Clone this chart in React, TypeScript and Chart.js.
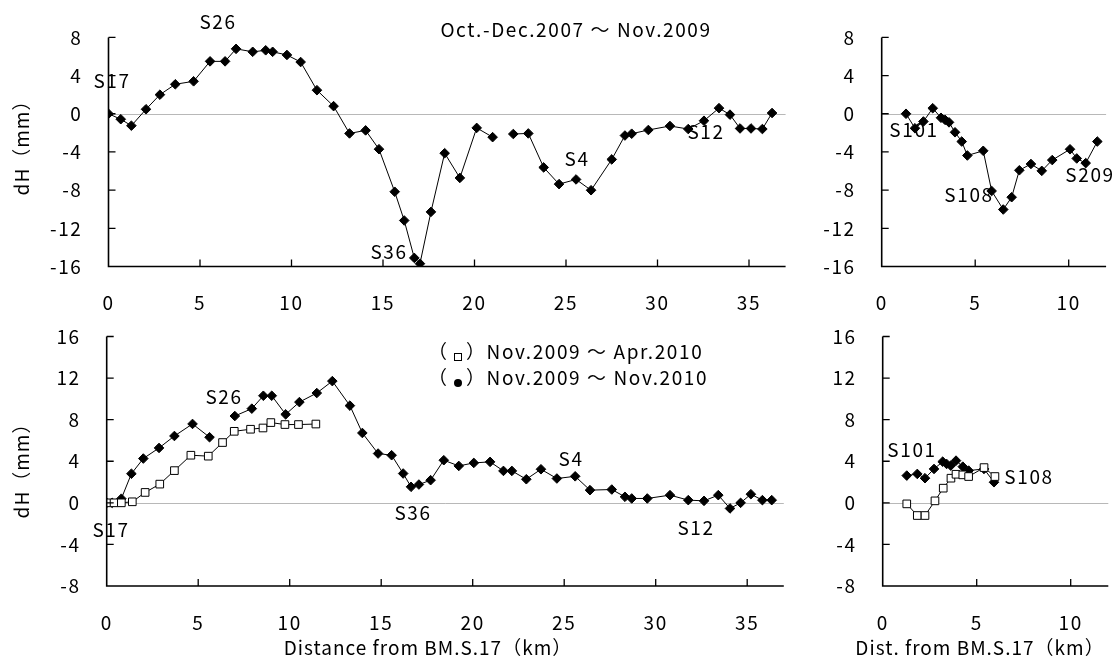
import React, { useEffect, useRef } from 'react';
import { Chart, registerables } from 'chart.js';
Chart.register(...registerables);

const FONT = "'Noto Sans CJK JP', 'Noto Sans', sans-serif";

// ---- Top-left: Oct.-Dec.2007 ~ Nov.2009, main route (two segments, gap near 21-22 km)
const tlDistA = [0, 0.67, 1.25, 2.05, 2.81, 3.65, 4.65, 5.55, 6.37, 6.97, 7.88, 8.59, 8.97, 9.75, 10.5, 11.39, 12.3, 13.17, 14.05, 14.78, 15.64, 16.16, 16.71, 17.02, 17.62, 18.37, 19.2, 20.12, 20.99];
const tlDhA = [0, -0.57, -1.25, 0.47, 2.0, 3.09, 3.4, 5.49, 5.49, 6.8, 6.49, 6.65, 6.49, 6.16, 5.42, 2.47, 0.8, -2.06, -1.74, -3.71, -8.17, -11.18, -15.1, -15.7, -10.28, -4.13, -6.72, -1.48, -2.45];
const tlDistB = [22.12, 22.94, 23.78, 24.62, 25.55, 26.37, 27.5, 28.22, 28.59, 29.5, 30.68, 31.68, 32.54, 33.36, 33.96, 34.51, 35.11, 35.73, 36.26];
const tlDhB = [-2.12, -2.06, -5.62, -7.37, -6.88, -8.01, -4.78, -2.28, -2.09, -1.7, -1.28, -1.6, -0.73, 0.59, -0.09, -1.54, -1.54, -1.6, 0.08];

// ---- Top-right: branch route S101 - S209
const trDist = [1.3, 1.78, 2.23, 2.73, 3.17, 3.39, 3.6, 3.92, 4.28, 4.58, 5.43, 5.88, 6.5, 6.95, 7.36, 7.98, 8.56, 9.12, 10.07, 10.43, 10.91, 11.53];
const trDh = [0, -1.52, -0.81, 0.58, -0.42, -0.64, -0.9, -1.94, -2.91, -4.37, -3.88, -8.09, -10.03, -8.74, -5.92, -5.26, -5.98, -4.85, -3.72, -4.68, -5.17, -2.91];

// ---- Bottom-left: Nov.2009 ~ Nov.2010 (filled, two segments) and Nov.2009 ~ Apr.2010 (open)
const blNovDistA = [0, 0.3, 0.8, 1.35, 2.0, 2.86, 3.7, 4.69, 5.62];
const blNovDhA = [0, 0, 0.4, 2.8, 4.26, 5.28, 6.43, 7.59, 6.31];
const blNovDistB = [7.0, 7.93, 8.56, 9.02, 9.78, 10.53, 11.48, 12.33, 13.29, 13.97, 14.83, 15.57, 16.2, 16.63, 17.06, 17.7, 18.42, 19.24, 20.06, 20.95, 21.68, 22.14, 22.93, 23.73, 24.6, 25.6, 26.41, 27.6, 28.32, 28.69, 29.54, 30.78, 31.78, 32.64, 33.42, 34.06, 34.64, 35.2, 35.83, 36.34];
const blNovDhB = [8.35, 9.06, 10.3, 10.3, 8.51, 9.69, 10.56, 11.71, 9.35, 6.72, 4.74, 4.58, 2.82, 1.54, 1.76, 2.18, 4.1, 3.55, 3.84, 3.94, 3.07, 3.07, 2.27, 3.23, 2.34, 2.55, 1.22, 1.28, 0.58, 0.42, 0.42, 0.74, 0.26, 0.19, 0.74, -0.54, 0, 0.83, 0.26, 0.26];
const blAprDist = [0, 0.4, 0.8, 1.4, 2.1, 2.9, 3.7, 4.6, 5.55, 6.33, 6.97, 7.86, 8.54, 8.97, 9.74, 10.48, 11.43];
const blAprDh = [0, 0, 0, 0.1, 1.0, 1.8, 3.1, 4.58, 4.49, 5.8, 6.88, 7.08, 7.2, 7.72, 7.53, 7.53, 7.58];

// ---- Bottom-right: branch route
const brNovDist = [1.28, 1.84, 2.25, 2.73, 3.19, 3.4, 3.62, 3.9, 4.26, 4.57, 5.39, 5.92];
const brNovDh = [2.62, 2.78, 2.37, 3.26, 3.96, 3.74, 3.58, 4.06, 3.48, 3.1, 3.26, 1.98];
const brAprDist = [1.28, 1.84, 2.25, 2.78, 3.22, 3.63, 3.9, 4.26, 4.57, 5.39, 5.97];
const brAprDh = [-0.1, -1.22, -1.22, 0.19, 1.41, 2.37, 2.75, 2.69, 2.53, 3.39, 2.53];

// ---- Tick labels
const xTicksMain = [0, 5, 10, 15, 20, 25, 30, 35];
const xTicksBranch = [0, 5, 10];
const yTicksTop = [-16, -12, -8, -4, 0, 4, 8];
const yTicksBottom = [-8, -4, 0, 4, 8, 12, 16];

type Series = { x: number[]; y: number[]; style: 'filled' | 'open' };
type Note = { text: string; x: number; y: number; align?: CanvasTextAlign };
type Spec = {
  left: number; right: number; top: number; bottom: number;
  xMax: number; xTicks: number[]; yMin: number; yMax: number; yTicks: number[];
  series: Series[]; notes: Note[];
  yTitle?: { text: string; x: number; y: number };
  xTitle?: { text: string; x: number; y: number };
  legend?: { x: number; y1: number; y2: number };
};

const W = 1120, H = 662, YW = 60, XH = 50;
const FS = 19;
const SPACING = '1.6px';
const TITLE_SPACING = '1px';

const specs: Spec[] = [
  {
    left: 108.5, right: 108.5 + 37 * 18.3, top: 19, bottom: 266.5,
    xMax: 37, xTicks: xTicksMain, yMin: -16, yMax: 8, yTicks: yTicksTop,
    series: [
      { x: tlDistA, y: tlDhA, style: 'filled' },
      { x: tlDistB, y: tlDhB, style: 'filled' },
    ],
    notes: [
      { text: 'S17', x: 112, y: 81 },
      { text: 'S26', x: 218, y: 22 },
      { text: 'Oct.-Dec.2007 ～ Nov.2009', x: 576, y: 30 },
      { text: 'S36', x: 389, y: 252 },
      { text: 'S4', x: 577, y: 159 },
      { text: 'S12', x: 706, y: 132 },
    ],
    yTitle: { text: 'dH（mm）', x: 22, y: 143 },
  },
  {
    left: 881.7, right: 881.7 + 12 * 18.7, top: 19, bottom: 266.5,
    xMax: 12, xTicks: xTicksBranch, yMin: -16, yMax: 8, yTicks: yTicksTop,
    series: [{ x: trDist, y: trDh, style: 'filled' }],
    notes: [
      { text: 'S101', x: 914, y: 130 },
      { text: 'S108', x: 969, y: 195 },
      { text: 'S209', x: 1090, y: 175 },
    ],
  },
  {
    left: 106.7, right: 106.7 + 37 * 18.3, top: 336.5, bottom: 586,
    xMax: 37, xTicks: xTicksMain, yMin: -8, yMax: 16, yTicks: yTicksBottom,
    series: [
      { x: blAprDist, y: blAprDh, style: 'open' },
      { x: blNovDistA, y: blNovDhA, style: 'filled' },
      { x: blNovDistB, y: blNovDhB, style: 'filled' },
    ],
    notes: [
      { text: 'S17', x: 111, y: 530 },
      { text: 'S26', x: 224, y: 397 },
      { text: 'S36', x: 413, y: 513 },
      { text: 'S4', x: 571, y: 459 },
      { text: 'S12', x: 696, y: 528 },
    ],
    yTitle: { text: 'dH（mm）', x: 22, y: 466 },
    xTitle: { text: 'Distance from BM.S.17（km）', x: 428, y: 648 },
    legend: { x: 428, y1: 352, y2: 378 },
  },
  {
    left: 882.7, right: 882.7 + 12 * 18.8, top: 336.5, bottom: 586,
    xMax: 12, xTicks: xTicksBranch, yMin: -8, yMax: 16, yTicks: yTicksBottom,
    series: [
      { x: brAprDist, y: brAprDh, style: 'open' },
      { x: brNovDist, y: brNovDh, style: 'filled' },
    ],
    notes: [
      { text: 'S101', x: 912, y: 450 },
      { text: 'S108', x: 1029, y: 477 },
    ],
    xTitle: { text: 'Dist. from BM.S.17（km）', x: 980, y: 648 },
  },
];

function makePlugin(spec: Spec) {
  return {
    id: 'panelDeco',
    beforeDraw(chart: any) {
      chart.ctx.letterSpacing = SPACING;
    },
    beforeDatasetsDraw(chart: any) {
      const { ctx, chartArea: a, scales } = chart;
      const y0 = Math.round(scales.y.getPixelForValue(0)) + 0.5;
      ctx.save();
      ctx.strokeStyle = '#b8b8b8';
      ctx.lineWidth = 1;
      ctx.beginPath();
      ctx.moveTo(a.left, y0);
      ctx.lineTo(a.right, y0);
      ctx.stroke();
      ctx.restore();
    },
    afterDraw(chart: any) {
      const { ctx, chartArea: a, scales } = chart;
      ctx.save();
      ctx.strokeStyle = '#000';
      ctx.lineWidth = 1.6;
      ctx.beginPath();
      ctx.moveTo(a.left, a.top);
      ctx.lineTo(a.left, a.bottom);
      ctx.lineTo(a.right, a.bottom);
      ctx.stroke();
      ctx.lineWidth = 1.3;
      ctx.beginPath();
      spec.yTicks.forEach((v) => {
        if (v === spec.yMin) return;
        const py = scales.y.getPixelForValue(v);
        ctx.moveTo(a.left, py);
        ctx.lineTo(a.left + 7, py);
      });
      spec.xTicks.forEach((v) => {
        if (v === 0) return;
        const px = scales.x.getPixelForValue(v);
        ctx.moveTo(px, a.bottom);
        ctx.lineTo(px, a.bottom - 7);
      });
      ctx.stroke();

      ctx.fillStyle = '#000';
      ctx.font = `${FS}px ${FONT}`;
      ctx.letterSpacing = SPACING;
      ctx.textBaseline = 'middle';
      spec.notes.forEach((n) => {
        ctx.textAlign = n.align || 'center';
        ctx.fillText(n.text, n.x, n.y);
      });
      if (spec.legend) {
        const { x, y1, y2 } = spec.legend;
        ctx.textAlign = 'left';
        ctx.fillText('（', x, y1);
        ctx.fillText('）Nov.2009 ～ Apr.2010', x + 38, y1);
        ctx.fillText('（', x, y2);
        ctx.fillText('）Nov.2009 ～ Nov.2010', x + 38, y2);
        ctx.lineWidth = 1;
        ctx.strokeRect(x + 26.5, y1 + 1.5, 7, 7);
        ctx.beginPath();
        ctx.arc(x + 30, y2 + 5, 4, 0, Math.PI * 2);
        ctx.fill();
      }
      ctx.letterSpacing = TITLE_SPACING;
      if (spec.xTitle) {
        ctx.textAlign = 'center';
        ctx.fillText(spec.xTitle.text, spec.xTitle.x, spec.xTitle.y);
      }
      if (spec.yTitle) {
        ctx.save();
        ctx.translate(spec.yTitle.x, spec.yTitle.y);
        ctx.rotate(-Math.PI / 2);
        ctx.textAlign = 'center';
        ctx.fillText(spec.yTitle.text, 0, 0);
        ctx.restore();
      }
      ctx.restore();
    },
  };
}

function makeConfig(spec: Spec): any {
  const datasets = spec.series.map((s) => ({
    data: s.x.map((xv, i) => ({ x: xv, y: s.y[i] })),
    showLine: true,
    borderColor: '#000',
    borderWidth: 1,
    tension: 0,
    pointStyle: s.style === 'filled' ? 'rectRot' : 'rect',
    pointRadius: s.style === 'filled' ? 4.8 : 5.4,
    pointBackgroundColor: s.style === 'filled' ? '#000' : '#fff',
    pointBorderColor: '#000',
    pointBorderWidth: 1,
  }));
  const tickFont = { family: FONT, size: FS };
  return {
    type: 'scatter',
    data: { datasets },
    plugins: [makePlugin(spec)],
    options: {
      animation: false,
      responsive: false,
      maintainAspectRatio: false,
      events: [],
      layout: {
        padding: {
          left: spec.left - YW,
          right: W - spec.right,
          top: spec.top,
          bottom: H - spec.bottom - XH,
        },
      },
      plugins: { legend: { display: false }, tooltip: { enabled: false }, title: { display: false } },
      scales: {
        x: {
          type: 'linear',
          min: 0,
          max: spec.xMax,
          grid: { display: false, drawTicks: false },
          border: { display: false },
          ticks: { color: '#000', font: tickFont, padding: 25, maxRotation: 0 },
          afterBuildTicks: (sc: any) => { sc.ticks = spec.xTicks.map((v) => ({ value: v })); },
          afterFit: (sc: any) => { sc.height = XH; },
        },
        y: {
          type: 'linear',
          min: spec.yMin,
          max: spec.yMax,
          grid: { display: false, drawTicks: false },
          border: { display: false },
          ticks: { color: '#000', font: tickFont, padding: 26 },
          afterBuildTicks: (sc: any) => { sc.ticks = spec.yTicks.map((v) => ({ value: v })); },
          afterFit: (sc: any) => { sc.width = YW; },
        },
      },
    },
  };
}

function Panel({ spec }: { spec: Spec }) {
  const ref = useRef<HTMLCanvasElement>(null);
  useEffect(() => {
    if (!ref.current) return;
    const chart = new Chart(ref.current, makeConfig(spec));
    return () => chart.destroy();
  }, [spec]);
  return (
    <canvas
      ref={ref}
      width={W}
      height={H}
      style={{ position: 'absolute', left: 0, top: 0, width: W, height: H }}
    />
  );
}

export default function App() {
  return (
    <div style={{ position: 'absolute', left: 0, top: 0, width: W, height: H, background: '#fff', overflow: 'hidden' }}>
      {specs.map((s, i) => (
        <Panel key={i} spec={s} />
      ))}
    </div>
  );
}
